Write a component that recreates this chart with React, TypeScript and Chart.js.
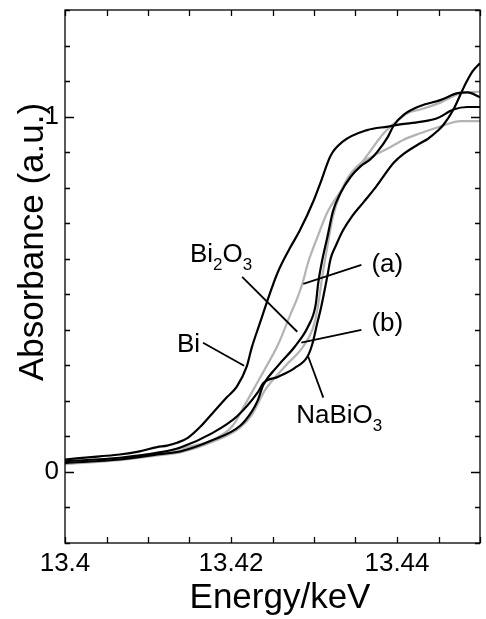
import React, { useEffect, useRef } from "react";
import { Chart, registerables } from "chart.js";

Chart.register(...registerables);

const FONT = '"Liberation Sans", Arial, Helvetica, sans-serif';

// ---- data (energy in keV, absorbance in a.u.) ----
const biEnergy = [13.4, 13.4042, 13.4066, 13.409, 13.4111, 13.4123, 13.4135, 13.4148, 13.4163, 13.4178, 13.4195, 13.4207, 13.4219, 13.4225, 13.4235, 13.4245, 13.4256, 13.4271, 13.4283, 13.43, 13.4308, 13.432, 13.4335, 13.4364, 13.4389, 13.4404, 13.4428, 13.4449, 13.4468, 13.4485, 13.45];
const biAbs = [0.035, 0.044, 0.049, 0.058, 0.07, 0.074, 0.082, 0.096, 0.127, 0.166, 0.21, 0.24, 0.297, 0.35, 0.42, 0.49, 0.56, 0.63, 0.68, 0.766, 0.815, 0.89, 0.93, 0.962, 0.972, 0.978, 0.985, 0.996, 1.02, 1.027, 1.027];

const bi2o3Energy = [13.4, 13.4066, 13.4114, 13.4139, 13.4178, 13.4211, 13.4225, 13.4232, 13.4239, 13.4257, 13.4277, 13.4293, 13.4302, 13.4305, 13.431, 13.4316, 13.4323, 13.4332, 13.4344, 13.4356, 13.4368, 13.4376, 13.4389, 13.4396, 13.4408, 13.4428, 13.4453, 13.4473, 13.4485, 13.45];
const bi2o3Abs = [0.025, 0.035, 0.05, 0.058, 0.09, 0.13, 0.17, 0.2, 0.245, 0.3, 0.353, 0.41, 0.47, 0.53, 0.597, 0.66, 0.735, 0.785, 0.83, 0.86, 0.88, 0.9, 0.943, 0.975, 1.005, 1.03, 1.047, 1.066, 1.068, 1.055];

const nabio3Energy = [13.4, 13.4066, 13.4114, 13.4139, 13.4178, 13.4207, 13.4232, 13.4239, 13.4257, 13.4277, 13.4292, 13.4298, 13.4304, 13.4308, 13.4316, 13.432, 13.4326, 13.4335, 13.4346, 13.436, 13.4374, 13.4396, 13.4408, 13.4428, 13.4437, 13.4449, 13.4456, 13.4468, 13.4481, 13.4491, 13.45];
const nabio3Abs = [0.03, 0.04, 0.055, 0.069, 0.11, 0.156, 0.223, 0.25, 0.268, 0.293, 0.324, 0.36, 0.42, 0.457, 0.55, 0.6, 0.635, 0.68, 0.72, 0.76, 0.8, 0.87, 0.895, 0.925, 0.937, 0.96, 0.977, 1.02, 1.085, 1.127, 1.15];

const sampleAEnergy = [13.4, 13.4066, 13.4114, 13.4151, 13.4178, 13.4202, 13.4217, 13.4229, 13.4241, 13.4257, 13.4271, 13.428, 13.4286, 13.4293, 13.4304, 13.4316, 13.4332, 13.434, 13.436, 13.4384, 13.4401, 13.4416, 13.4428, 13.4453, 13.4477, 13.45];
const sampleAAbs = [0.025, 0.037, 0.055, 0.072, 0.09, 0.13, 0.19, 0.24, 0.29, 0.36, 0.44, 0.49, 0.53, 0.59, 0.66, 0.73, 0.79, 0.82, 0.878, 0.953, 0.99, 1.013, 1.02, 1.04, 1.066, 1.07];

const sampleBEnergy = [13.4, 13.4066, 13.4114, 13.4139, 13.4178, 13.4211, 13.4225, 13.4241, 13.4265, 13.4286, 13.4298, 13.4304, 13.431, 13.4315, 13.4323, 13.4332, 13.434, 13.4352, 13.4372, 13.4389, 13.4408, 13.4428, 13.4453, 13.4477, 13.45];
const sampleBAbs = [0.022, 0.033, 0.047, 0.055, 0.085, 0.125, 0.16, 0.23, 0.297, 0.35, 0.4, 0.456, 0.55, 0.62, 0.72, 0.785, 0.825, 0.86, 0.89, 0.91, 0.935, 0.953, 0.973, 0.987, 0.987];

const xTickLabels = ["13.4", "13.42", "13.44"];
const yTickLabels = ["0", "1"];
const xTitle = "Energy/keV";
const yTitle = "Absorbance (a.u.)";

type Part = { t: string; sub?: boolean };
type Note = { parts: Part[]; x: number; y: number; from: [number, number]; to: [number, number] };

// labels and their leader lines, in data coordinates
const notes: Note[] = [
  { parts: [{ t: "Bi" }, { t: "2", sub: true }, { t: "O" }, { t: "3", sub: true }], x: 13.41506, y: 0.591, from: [13.42134, 0.549], to: [13.42798, 0.3945] },
  { parts: [{ t: "Bi" }], x: 13.41349, y: 0.338, from: [13.41663, 0.3636], to: [13.42158, 0.299] },
  { parts: [{ t: "(a)" }], x: 13.43692, y: 0.563, from: [13.43571, 0.583], to: [13.42871, 0.5295] },
  { parts: [{ t: "(b)" }], x: 13.43692, y: 0.397, from: [13.43571, 0.4], to: [13.42847, 0.3636] },
  { parts: [{ t: "NaBiO" }, { t: "3", sub: true }], x: 13.42786, y: 0.139, from: [13.43112, 0.209], to: [13.42931, 0.324] },
];

const toPoints = (xs: number[], ys: number[]) => xs.map((x, i) => ({ x, y: ys[i] }));

const framePlugin = {
  id: "frame",
  afterDraw(chart: any) {
    const { ctx, chartArea: a, scales } = chart;
    const xs = scales.x;
    const ys = scales.y;
    ctx.save();
    ctx.strokeStyle = "#000";
    ctx.lineWidth = 1.3;
    ctx.strokeRect(a.left, a.top, a.right - a.left, a.bottom - a.top);
    ctx.beginPath();
    xs.ticks.forEach((t: any) => {
      const p = Math.round(xs.getPixelForValue(t.value)) + 0.5;
      const len = 6;
      ctx.moveTo(p, a.bottom);
      ctx.lineTo(p, a.bottom - len);
      ctx.moveTo(p, a.top);
      ctx.lineTo(p, a.top + len);
    });
    ys.ticks.forEach((t: any) => {
      const p = Math.round(ys.getPixelForValue(t.value)) + 0.5;
      const lab = String(Math.round(t.value * 10) / 10);
      const len = yTickLabels.includes(lab) ? 9 : 5;
      ctx.moveTo(a.left, p);
      ctx.lineTo(a.left + len, p);
      ctx.moveTo(a.right, p);
      ctx.lineTo(a.right - len, p);
    });
    ctx.stroke();

    // annotations
    ctx.fillStyle = "#000";
    ctx.lineWidth = 1.8;
    ctx.textBaseline = "alphabetic";
    ctx.textAlign = "left";
    notes.forEach((n) => {
      ctx.beginPath();
      ctx.moveTo(xs.getPixelForValue(n.from[0]), ys.getPixelForValue(n.from[1]));
      ctx.lineTo(xs.getPixelForValue(n.to[0]), ys.getPixelForValue(n.to[1]));
      ctx.stroke();
      let px = xs.getPixelForValue(n.x);
      const py = ys.getPixelForValue(n.y);
      n.parts.forEach((p) => {
        ctx.font = p.sub ? `17px ${FONT}` : `26px ${FONT}`;
        ctx.fillText(p.t, px, py + (p.sub ? 8 : 0));
        px += ctx.measureText(p.t).width;
      });
    });

    // axis titles
    ctx.font = `35px ${FONT}`;
    ctx.textAlign = "center";
    ctx.fillText(xTitle, 280, 608);
    ctx.translate(43, 242);
    ctx.rotate(-Math.PI / 2);
    ctx.fillText(yTitle, 0, 0);
    ctx.restore();
  },
};

export default function App() {
  const ref = useRef<HTMLCanvasElement | null>(null);
  useEffect(() => {
    if (!ref.current) return;
    const black = "#000000";
    const gray = "#b3b3b3";
    const common = { borderWidth: 2.2, pointRadius: 0, cubicInterpolationMode: "monotone" as const, fill: false };
    const chart = new Chart(ref.current, {
      type: "line",
      data: {
        datasets: [
          { label: "Bi", data: toPoints(biEnergy, biAbs), borderColor: black, ...common },
          { label: "Bi2O3", data: toPoints(bi2o3Energy, bi2o3Abs), borderColor: black, ...common },
          { label: "NaBiO3", data: toPoints(nabio3Energy, nabio3Abs), borderColor: black, ...common },
          { label: "(a)", data: toPoints(sampleAEnergy, sampleAAbs), borderColor: gray, ...common },
          { label: "(b)", data: toPoints(sampleBEnergy, sampleBAbs), borderColor: gray, ...common },
        ],
      },
      options: {
        animation: false,
        responsive: false,
        devicePixelRatio: 1,
        layout: { padding: { left: 0, right: 6, top: 10, bottom: 0 } },
        plugins: { legend: { display: false }, tooltip: { enabled: false } },
        scales: {
          x: {
            type: "linear",
            min: 13.4,
            max: 13.45,
            grid: { display: false, drawTicks: false },
            border: { display: false },
            afterFit: (s: any) => { s.height = 76; s.paddingLeft = 0; s.paddingRight = 0; },
            ticks: {
              stepSize: 0.005,
              autoSkip: false,
              maxRotation: 0,
              padding: 5,
              color: "#000",
              font: { family: FONT, size: 26 },
              callback: (v: any) => {
                const s = String(Math.round(Number(v) * 1000) / 1000);
                return xTickLabels.includes(s) ? s : "";
              },
            },
          },
          y: {
            type: "linear",
            min: -0.2,
            max: 1.3,
            grid: { display: false, drawTicks: false },
            border: { display: false },
            afterFit: (s: any) => { s.width = 65; s.paddingTop = 0; s.paddingBottom = 0; },
            ticks: {
              stepSize: 0.1,
              autoSkip: false,
              padding: 6,
              color: "#000",
              font: { family: FONT, size: 26 },
              callback: (v: any) => {
                const s = String(Math.round(Number(v) * 10) / 10);
                return yTickLabels.includes(s) ? s : "";
              },
            },
          },
        },
      },
      plugins: [framePlugin],
    });
    return () => chart.destroy();
  }, []);
  return (
    <div style={{ position: "absolute", left: 0, top: 0, width: 486, height: 619, background: "#fff" }}>
      <canvas ref={ref} width={486} height={619} />
    </div>
  );
}
